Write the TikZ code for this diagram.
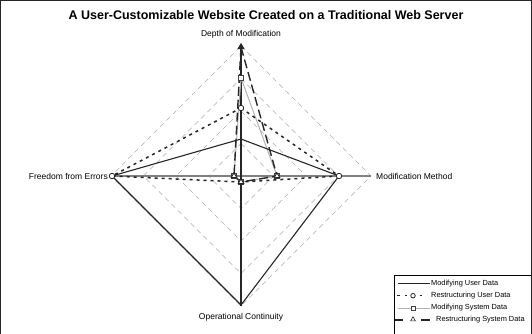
\documentclass[tikz,border=0pt]{standalone}
\usepackage{fontspec}
\setmainfont{Liberation Sans}
\usetikzlibrary{shapes.geometric}
\begin{document}
\begin{tikzpicture}[x=1pt,y=-1pt,
  gridline/.style={draw=black!32, line width=0.6pt, dash pattern=on 5pt off 4pt},
  haxis/.style={draw=black!50, line width=1.5pt},
  vaxis/.style={draw=black!85, line width=1.1pt},
  serA/.style={draw=black!85, line width=1.1pt},
  serB/.style={draw=black!85, line width=1.5pt, dash pattern=on 3pt off 4pt},
  serC/.style={draw=black!30, line width=1pt},
  serD/.style={draw=black!85, line width=1.4pt, dash pattern=on 9pt off 4pt},
  circmark/.style={circle, draw=black!85, fill=white, line width=0.8pt, inner sep=0pt, minimum size=5.5pt},
  sqmark/.style={rectangle, draw=black!75, fill=white, line width=0.8pt, inner sep=0pt, minimum size=4.5pt},
  trimark/.style={regular polygon, regular polygon sides=3, draw=black!85, fill=white, line width=0.9pt, inner sep=0pt, minimum size=6.5pt},
  axlabel/.style={font=\fontsize{8.5}{10}\selectfont, inner sep=0pt},
  legtext/.style={font=\fontsize{7.4}{9}\selectfont, anchor=west, inner sep=0pt}]
\useasboundingbox (0,0) rectangle (532,333);

% centre of the chart
\coordinate (C) at (241,176);

% concentric grid diamonds
\foreach \r in {32.5,65,97.5,130}
  \draw[gridline] (241,{176-\r}) -- ({241+\r},176) -- (241,{176+\r}) -- ({241-\r},176) -- cycle;

% axes
\coordinate (aT) at (241,46);
\coordinate (aR) at (371,176);
\coordinate (aB) at (241,306);
\coordinate (aL) at (111,176);
\draw[haxis] (aL) -- (aR);
\draw[vaxis] (aT) -- (aB);

% data points (top, right, bottom, left)
\coordinate (s1t) at (241,139);   \coordinate (s1r) at (339,176);
\coordinate (s1b) at (241,305);   \coordinate (s1l) at (112,176);
\coordinate (s2t) at (241,108);   \coordinate (s2r) at (339,176);
\coordinate (s2b) at (241,182);   \coordinate (s2l) at (112,176);
\coordinate (s3t) at (241,78);    \coordinate (s3r) at (277,176);
\coordinate (s3b) at (241,182);   \coordinate (s3l) at (234,176);
\coordinate (s4t) at (241,47);    \coordinate (s4r) at (277,176);
\coordinate (s4b) at (241,182);   \coordinate (s4l) at (234,176);

% series polygons
\draw[serC] (s3t) -- (s3r) -- (s3b) -- (s3l) -- cycle;
\draw[serA] (s1t) -- (s1r) -- (s1b) -- (s1l) -- cycle;
\draw[serB] (s2t) -- (s2r) -- (s2b) -- (s2l) -- cycle;
\draw[serD] (s4t) -- (s4r) -- (s4b) -- (s4l) -- cycle;

% markers
\foreach \p in {t,r,b,l} \node[sqmark] (m3\p) at (s3\p) {};
\foreach \p in {t,r,b,l} \node[circmark] (m2\p) at (s2\p) {};
\foreach \p in {r,b,l} \node[trimark] (m4\p) at (s4\p) {};
\node[trimark, fill=black!85] (m4t) at (s4t) {};

% axis labels
\node[axlabel] (lT) at (241,34) {Depth of Modification};
\node[axlabel, anchor=west] (lR) at (376,176) {Modification Method};
\node[axlabel, anchor=east] (lL) at (108,176) {Freedom from Errors};
\node[axlabel] (lB) at (241,317) {Operational Continuity};

% title
\node[font=\bfseries\fontsize{12.5}{14}\selectfont, inner sep=0pt] (title) at (266,15)
  {A User-Customizable Website Created on a Traditional Web Server};

% legend
\fill[white] (394,275) rectangle (540,340);
\draw[line width=0.7pt] (394,340) -- (394,275) -- (540,275);
\coordinate (g1a) at (398,283.3); \coordinate (g1b) at (430,283.3);
\coordinate (g2a) at (397,295.7); \coordinate (g2b) at (426,295.7);
\coordinate (g3a) at (398,308);   \coordinate (g3b) at (430,308);
\coordinate (g4a) at (395,320);   \coordinate (g4b) at (430,320);
\draw[serA] (g1a) -- (g1b);
\draw[draw=black!85, line width=1.2pt, dash pattern=on 2.5pt off 5pt] (g2a) -- (g2b);
\draw[serC] (g3a) -- (g3b);
\draw[draw=black!85, line width=1.2pt] (g4a) -- (403,320) (421,320) -- (g4b);
\node[circmark, minimum size=4.5pt] (k2) at (413,295.7) {};
\node[sqmark, minimum size=4pt] (k3) at (413,308) {};
\node[trimark, minimum size=5.5pt, line width=0.6pt] (k4) at (413,319.5) {};
\node[legtext] (t1) at (431,283.3) {Modifying User Data};
\node[legtext] (t2) at (431,295.7) {Restructuring User Data};
\node[legtext] (t3) at (431,308) {Modifying System Data};
\node[legtext] (t4) at (436,320) {Restructuring System Data};

% outer frame
\draw[line width=1.2pt, black!85] (0.6,334) -- (0.6,0.6) -- (531.4,0.6) -- (531.4,334);
\end{tikzpicture}
\end{document}
